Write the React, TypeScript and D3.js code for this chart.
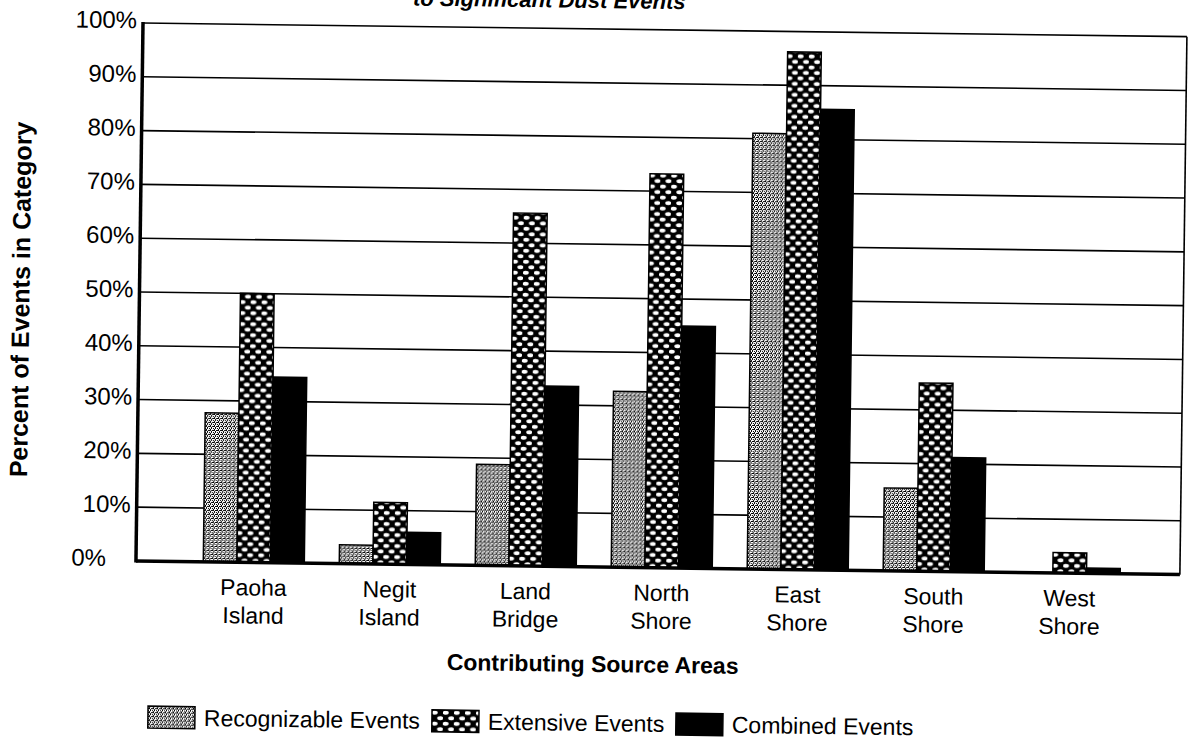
import React from "react";
import * as d3 from "d3";

const categories = ["Paoha Island", "Negit Island", "Land Bridge", "North Shore", "East Shore", "South Shore", "West Shore"];
const seriesNames = ["Recognizable Events", "Extensive Events", "Combined Events"];
const recognizable = [27.7, 3.5, 18.8, 32.7, 81, 15.4, 0];
const extensive = [50, 11.5, 65.6, 73.2, 96.2, 35, 3.8];
const combined = [34.5, 6, 33.5, 45, 85.6, 21.2, 1];
const yTicks = [0, 10, 20, 30, 40, 50, 60, 70, 80, 90, 100];
const xTitle = "Contributing Source Areas";
const yTitle = "Percent of Events in Category";
const chartTitle = "to Significant Dust Events";

const WIDTH = 1191;
const HEIGHT = 750;
const ORIGIN_X = 143;
const ORIGIN_Y = 23;
const W = 1044;
const H = 538;
const TILT = 0.75;
const FONT = "'Liberation Sans', Arial, Helvetica, sans-serif";

const fills = ["url(#patRec)", "url(#patExt)", "#000"];

export default function App() {
  const x = d3.scaleBand<string>().domain(categories).range([0, W]).paddingInner(0.257).paddingOuter(0.467).align(0.53);
  const xs = d3.scaleBand<number>().domain([0, 1, 2]).range([0, x.bandwidth()]).padding(0);
  const y = d3.scaleLinear().domain([0, 100]).range([H, 0]);
  const series = [recognizable, extensive, combined];

  const legendX = [14, 298, 542];

  return (
    <svg width={WIDTH} height={HEIGHT} style={{ position: "absolute", left: 0, top: 0, background: "#fff" }} fontFamily={FONT}>
      <defs>
        <pattern id="patRec" width="4" height="4" patternUnits="userSpaceOnUse">
          <rect width="4" height="4" fill="#fff" />
          <rect x="0" y="0" width="1" height="1" fill="#000" />
          <rect x="2" y="0" width="1" height="1" fill="#000" />
          <rect x="1" y="1" width="1" height="1" fill="#000" />
          <rect x="3" y="2" width="1" height="1" fill="#000" />
          <rect x="0" y="2" width="1" height="1" fill="#000" />
          <rect x="2" y="3" width="1" height="1" fill="#000" />
          <rect x="1" y="2" width="1" height="1" fill="#000" />
        </pattern>
        <pattern id="patExt" width="11" height="11" patternUnits="userSpaceOnUse">
          <rect width="11" height="11" fill="#000" />
          <ellipse cx="2.75" cy="2.75" rx="3" ry="1.9" fill="#fff" />
          <ellipse cx="8.25" cy="8.25" rx="3" ry="1.9" fill="#fff" />
        </pattern>
      </defs>
      <rect width={WIDTH} height={HEIGHT} fill="#fff" />
      <g transform={`rotate(${TILT}, ${ORIGIN_X}, ${ORIGIN_Y}) translate(${ORIGIN_X}, ${ORIGIN_Y})`}>
        <text x={406} y={-21} textAnchor="middle" fontSize={22} fontWeight="bold" fontStyle="italic">{chartTitle}</text>
        {yTicks.filter((t) => t > 0).map((t) => (
          <line key={t} x1={0} x2={W} y1={y(t)} y2={y(t)} stroke="#000" strokeWidth={1.6} />
        ))}
        <line x1={W} x2={W} y1={y(100)} y2={y(0)} stroke="#000" strokeWidth={1.6} />
        {categories.map((c, i) => (
          <g key={c} transform={`translate(${x(c)},0)`}>
            {series.map((s, j) => (
              s[i] > 0 ? (
                <rect key={j} x={xs(j)} y={y(s[i])} width={xs.bandwidth()} height={y(0) - y(s[i])} fill={fills[j]} stroke="#000" strokeWidth={1.5} />
              ) : null
            ))}
          </g>
        ))}
        <line x1={0} x2={W} y1={y(0)} y2={y(0)} stroke="#000" strokeWidth={3.5} />
        <line x1={0} x2={0} y1={y(100) - 1} y2={y(0) + 1.5} stroke="#000" strokeWidth={3.5} />
        {yTicks.map((t) => (
          <text key={t} x={t === 0 ? -30 : -6} y={y(t) - 3} dy="0.35em" textAnchor="end" fontSize={24}>{`${t}%`}</text>
        ))}
        {categories.map((c) => {
          const parts = c.split(" ");
          const cx = (x(c) as number) + x.bandwidth() / 2;
          return (
            <text key={c} x={cx} y={H + 33} textAnchor="middle" fontSize={23}>
              <tspan x={cx}>{parts[0]}</tspan>
              <tspan x={cx} dy={28}>{parts[1]}</tspan>
            </text>
          );
        })}
        <text x={458} y={643} textAnchor="middle" fontSize={23} fontWeight="bold">{xTitle}</text>
        <text transform={`translate(-119, 278) rotate(-90)`} textAnchor="middle" dominantBaseline="central" fontSize={25} fontWeight="bold">{yTitle}</text>
        {seriesNames.map((n, j) => (
          <g key={n} transform={`translate(${legendX[j]}, 683)`}>
            <rect x={0} y={0} width={47} height={22} fill={fills[j]} stroke="#000" strokeWidth={1.5} />
            <text x={56} y={11} dy="0.35em" fontSize={23}>{n}</text>
          </g>
        ))}
      </g>
    </svg>
  );
}
